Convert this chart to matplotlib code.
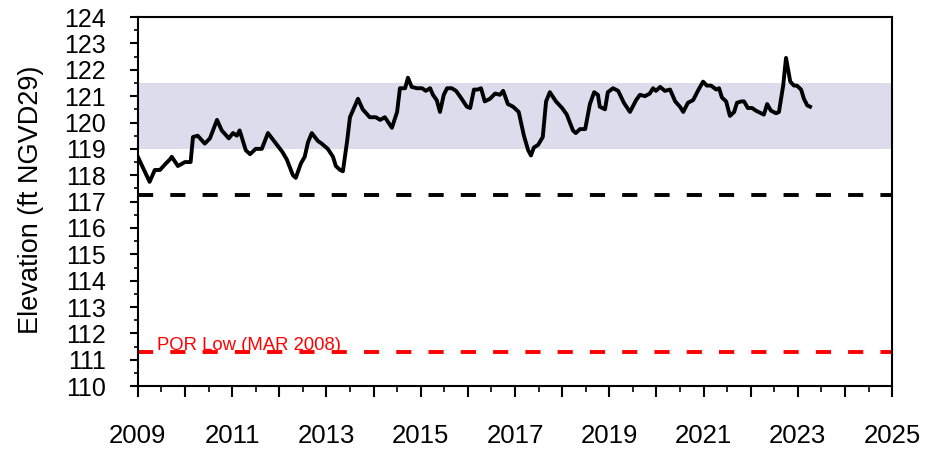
import matplotlib
matplotlib.use("Agg")
import matplotlib.pyplot as plt
from matplotlib.ticker import MultipleLocator

plt.rcParams['font.family'] = ['Liberation Sans', 'DejaVu Sans']

# Monthly lake stage (decimal year, ft NGVD29)
years = [2009.00, 2009.25, 2009.36, 2009.47, 2009.57, 2009.68, 2009.72, 2009.85,
         2010.00, 2010.12, 2010.17, 2010.27, 2010.42, 2010.53, 2010.68, 2010.78,
         2010.93, 2011.02, 2011.10, 2011.16, 2011.23, 2011.29, 2011.38, 2011.50,
         2011.63, 2011.76, 2011.91, 2012.06, 2012.16, 2012.29, 2012.35, 2012.46,
         2012.54, 2012.61, 2012.69, 2012.82, 2012.90, 2013.03, 2013.14, 2013.20,
         2013.29, 2013.35, 2013.44, 2013.50, 2013.67, 2013.77, 2013.92, 2014.05,
         2014.14, 2014.24, 2014.39, 2014.50, 2014.56, 2014.67, 2014.73, 2014.81,
         2014.92, 2015.03, 2015.11, 2015.20, 2015.26, 2015.34, 2015.41, 2015.49,
         2015.56, 2015.66, 2015.75, 2015.85, 2015.98, 2016.05, 2016.13, 2016.21,
         2016.28, 2016.36, 2016.47, 2016.58, 2016.68, 2016.75, 2016.85, 2016.96,
         2017.08, 2017.19, 2017.28, 2017.34, 2017.40, 2017.49, 2017.59, 2017.66,
         2017.74, 2017.87, 2018.00, 2018.10, 2018.23, 2018.29, 2018.38, 2018.49,
         2018.59, 2018.68, 2018.76, 2018.80, 2018.91, 2018.97, 2019.08, 2019.19,
         2019.31, 2019.44, 2019.57, 2019.65, 2019.76, 2019.86, 2019.93, 2019.99,
         2020.08, 2020.18, 2020.29, 2020.40, 2020.50, 2020.57, 2020.67, 2020.78,
         2020.88, 2020.99, 2021.07, 2021.16, 2021.27, 2021.33, 2021.39, 2021.48,
         2021.56, 2021.65, 2021.71, 2021.80, 2021.86, 2021.94, 2022.03, 2022.11,
         2022.22, 2022.28, 2022.35, 2022.43, 2022.54, 2022.60, 2022.69, 2022.75,
         2022.84, 2022.92, 2022.98, 2023.07, 2023.13, 2023.20, 2023.26]
stage = [118.70, 117.75, 118.20, 118.20, 118.40, 118.60, 118.70, 118.35,
         118.50, 118.50, 119.45, 119.50, 119.20, 119.40, 120.10, 119.70,
         119.40, 119.60, 119.50, 119.70, 119.30, 118.95, 118.80, 119.00,
         119.00, 119.60, 119.25, 118.90, 118.60, 118.00, 117.90, 118.45,
         118.70, 119.25, 119.60, 119.30, 119.20, 119.00, 118.70, 118.35,
         118.20, 118.15, 119.30, 120.20, 120.90, 120.50, 120.20, 120.20,
         120.10, 120.20, 119.80, 120.40, 121.30, 121.30, 121.70, 121.35,
         121.30, 121.30, 121.20, 121.30, 121.05, 120.85, 120.40, 121.05,
         121.30, 121.30, 121.20, 120.95, 120.60, 120.55, 121.25, 121.25,
         121.30, 120.80, 120.90, 121.10, 121.05, 121.20, 120.70, 120.60,
         120.40, 119.50, 118.95, 118.75, 119.05, 119.15, 119.45, 120.80,
         121.15, 120.80, 120.55, 120.30, 119.70, 119.60, 119.75, 119.75,
         120.70, 121.15, 121.05, 120.60, 120.50, 121.15, 121.30, 121.20,
         120.75, 120.40, 120.85, 121.05, 121.00, 121.10, 121.30, 121.20,
         121.35, 121.20, 121.25, 120.80, 120.60, 120.40, 120.75, 120.85,
         121.20, 121.55, 121.40, 121.40, 121.25, 121.30, 120.95, 120.80,
         120.25, 120.40, 120.75, 120.80, 120.80, 120.55, 120.55, 120.45,
         120.35, 120.30, 120.70, 120.45, 120.35, 120.40, 121.40, 122.45,
         121.55, 121.40, 121.40, 121.25, 120.90, 120.65, 120.60]

band_low, band_high = 119.0, 121.5
ref_level = 117.25
por_low = 111.3
por_label = "POR Low (MAR 2008)"

fig = plt.figure(figsize=(9.44, 4.49), dpi=100)
ax = fig.add_axes([0.146, 0.140, 0.799, 0.822])

dash = (0, (3.9, 4.4))
ax.axhspan(band_low, band_high, color="#dcdcec", lw=0, zorder=1)
ax.axhline(ref_level, color="black", lw=2.8, ls=dash, zorder=2)
ax.axhline(por_low, color="red", lw=2.8, ls=dash, zorder=2)
ax.plot(years, stage, color="black", lw=2.8, zorder=3,
        solid_joinstyle="round")
ax.text(2009.40, por_low - 0.08, por_label, color="red", fontsize=13.3,
        va="bottom", ha="left", zorder=4)

ax.set_xlim(2009, 2025)
ax.set_ylim(110, 124)
ax.xaxis.set_minor_locator(MultipleLocator(0.5))
ax.yaxis.set_major_locator(MultipleLocator(1))
ax.yaxis.set_minor_locator(MultipleLocator(0.5))
ax.set_xticks(range(2009, 2026))
ax.set_xticklabels([str(y) if (y - 2009) % 2 == 0 else "" for y in range(2009, 2026)])

ax.tick_params(axis="x", which="major", length=8, width=1.5, pad=19, labelsize=18.5)
ax.tick_params(axis="x", which="minor", length=4, width=1.2)
ax.tick_params(axis="y", which="major", length=6, width=1.5, pad=17, labelsize=18)
ax.tick_params(axis="y", which="minor", length=3, width=1.2)
for s in ax.spines.values():
    s.set_linewidth(1.5)

ax.set_ylabel("Elevation (ft NGVD29)", fontsize=19.5)
ax.yaxis.set_label_coords(-0.125, 0.504)

fig.savefig("out.png", dpi=100)
